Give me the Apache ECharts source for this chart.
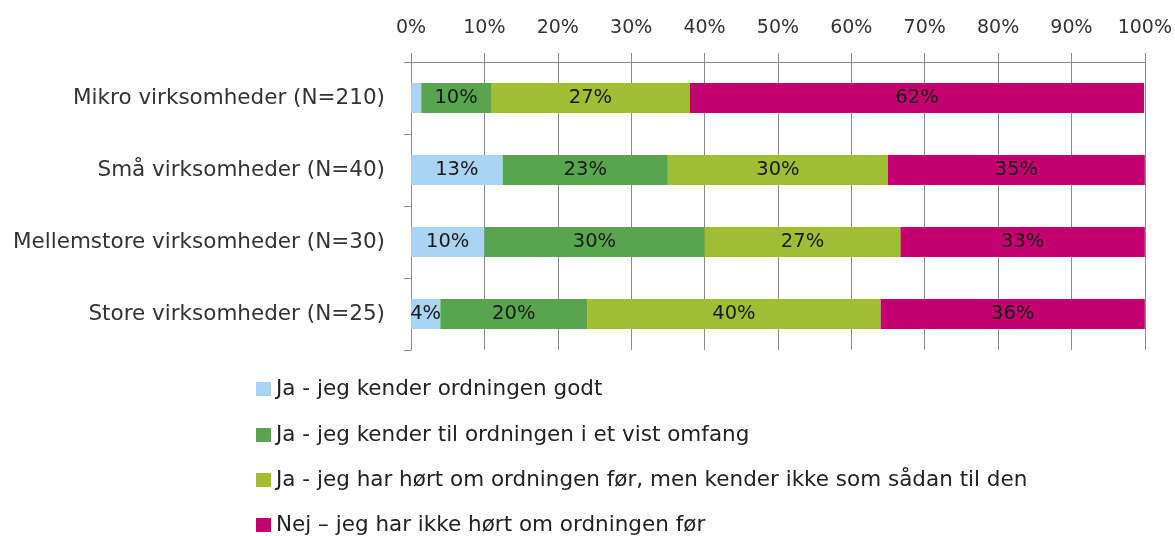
<!DOCTYPE html>
<html>
<head>
<meta charset="utf-8">
<script src="https://cdn.jsdelivr.net/npm/echarts@6/dist/echarts.min.js"></script>
<style>html,body{margin:0;padding:0;background:#fff;}#c{width:1175px;height:536px;}</style>
</head>
<body>
<div id="c"></div>
<script>
const categories = ['Mikro virksomheder (N=210)', 'Små virksomheder (N=40)', 'Mellemstore virksomheder (N=30)', 'Store virksomheder (N=25)'];
const seriesNames = ['Ja - jeg kender ordningen godt', 'Ja - jeg kender til ordningen i et vist omfang', 'Ja - jeg har hørt om ordningen før, men kender ikke som sådan til den', 'Nej – jeg har ikke hørt om ordningen før'];
const kenderGodt = [1.4, 12.5, 10, 4];
const kenderVistOmfang = [9.5, 22.5, 30, 20];
const hoertOm = [27.1, 30, 26.7, 40];
const nej = [61.9, 35, 33.3, 36];
const tickLabels = ['0%', '10%', '20%', '30%', '40%', '50%', '60%', '70%', '80%', '90%', '100%'];
const hiddenLabels = [[0, 0]]; // [seriesIndex, dataIndex]
const colors = ['#a9d4f2', '#58a54f', '#9fbd35', '#c4006e'];

const FONT = 'DejaVu Sans';
const allValues = [kenderGodt, kenderVistOmfang, hoertOm, nej];
const series = allValues.map((vals, si) => ({
  name: seriesNames[si],
  type: 'bar',
  stack: 'total',
  barWidth: 30,
  itemStyle: { color: colors[si] },
  label: {
    show: true,
    position: 'inside',
    color: '#1a1a1a',
    fontFamily: FONT,
    fontSize: 19.5,
    formatter: p => Math.round(p.value) + '%'
  },
  data: vals.map((v, di) => {
    const hide = hiddenLabels.some(h => h[0] === si && h[1] === di);
    return hide ? { value: v, label: { show: false } } : v;
  })
}));

const legendCenters = [389, 435, 480, 525];
const legends = seriesNames.map((n, i) => ({
  orient: 'vertical',
  left: 256,
  top: legendCenters[i] - 11,
  padding: 0,
  itemWidth: 15,
  itemHeight: 14,
  icon: 'rect',
  textStyle: { color: '#222', fontFamily: FONT, fontSize: 21.5, lineHeight: 22 },
  data: [n]
}));

const chart = echarts.init(document.getElementById('c'));
chart.setOption({
  animation: false,
  grid: { left: 411, right: 29, top: 62, bottom: 186, containLabel: false },
  xAxis: {
    type: 'value',
    position: 'top',
    min: 0, max: 100, interval: 10,
    axisLine: { show: true, lineStyle: { color: '#888', width: 1 } },
    axisTick: { show: true, length: 9, lineStyle: { color: '#888' } },
    splitLine: { show: true, lineStyle: { color: '#888', width: 1 } },
    axisLabel: {
      margin: 24,
      color: '#333',
      fontFamily: FONT,
      fontSize: 19,
      formatter: v => tickLabels[Math.round(v / 10)]
    }
  },
  yAxis: {
    type: 'category',
    inverse: true,
    data: categories,
    axisLine: { show: true, lineStyle: { color: '#888', width: 1 } },
    axisTick: { show: true, length: 7, lineStyle: { color: '#888' } },
    axisLabel: { margin: 26, color: '#333', fontFamily: FONT, fontSize: 21.5 }
  },
  legend: legends,
  series: series
});
</script>
</body>
</html>
